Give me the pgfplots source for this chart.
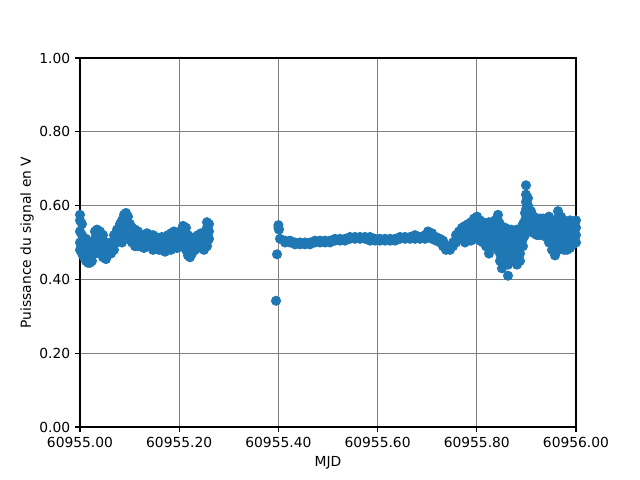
\documentclass[border=0pt]{standalone}
\usepackage{fontspec}
\setmainfont{DejaVu Sans}
\usepackage{pgfplots}
\pgfplotsset{compat=1.18}
\usepackage{pgfplotstable}
\definecolor{mplblue}{HTML}{1F77B4}
% x = MJD - 60955 (offset, to keep full precision)
\pgfplotstableread{
x y
0.0000 0.575
0.0000 0.56
0.0000 0.53
0.0000 0.50
0.0000 0.48
0.0040 0.55
0.0040 0.52
0.0040 0.49
0.0040 0.47
0.0081 0.50
0.0081 0.48
0.0081 0.46
0.0121 0.51
0.0121 0.49
0.0121 0.47
0.0121 0.45
0.0161 0.50
0.0161 0.47
0.0161 0.445
0.0202 0.49
0.0202 0.46
0.0202 0.445
0.0242 0.50
0.0242 0.48
0.0242 0.45
0.0302 0.53
0.0302 0.51
0.0302 0.49
0.0302 0.47
0.0343 0.535
0.0343 0.52
0.0343 0.50
0.0343 0.48
0.0403 0.53
0.0403 0.50
0.0403 0.47
0.0464 0.52
0.0464 0.49
0.0464 0.46
0.0524 0.50
0.0524 0.47
0.0524 0.455
0.0565 0.49
0.0565 0.47
0.0625 0.50
0.0625 0.48
0.0625 0.47
0.0685 0.52
0.0685 0.50
0.0685 0.48
0.0746 0.535
0.0746 0.52
0.0746 0.50
0.0806 0.55
0.0806 0.53
0.0806 0.51
0.0847 0.56
0.0847 0.54
0.0847 0.52
0.0847 0.50
0.0887 0.575
0.0887 0.56
0.0887 0.54
0.0887 0.52
0.0927 0.58
0.0927 0.55
0.0927 0.53
0.0968 0.57
0.0968 0.55
0.0968 0.52
0.0968 0.51
0.1008 0.55
0.1008 0.53
0.1008 0.51
0.1048 0.54
0.1048 0.52
0.1048 0.50
0.1109 0.535
0.1109 0.52
0.1109 0.50
0.1109 0.49
0.1169 0.53
0.1169 0.51
0.1169 0.49
0.1230 0.52
0.1230 0.50
0.1230 0.49
0.1290 0.52
0.1290 0.50
0.1290 0.485
0.1351 0.525
0.1351 0.51
0.1351 0.49
0.1411 0.52
0.1411 0.50
0.1411 0.49
0.1472 0.52
0.1472 0.50
0.1472 0.48
0.1532 0.515
0.1532 0.50
0.1532 0.485
0.1593 0.51
0.1593 0.49
0.1593 0.48
0.1653 0.515
0.1653 0.50
0.1653 0.48
0.1714 0.51
0.1714 0.49
0.1714 0.475
0.1774 0.52
0.1774 0.50
0.1774 0.48
0.1835 0.525
0.1835 0.50
0.1835 0.48
0.1895 0.53
0.1895 0.51
0.1895 0.49
0.1956 0.52
0.1956 0.50
0.1956 0.485
0.2016 0.53
0.2016 0.51
0.2016 0.49
0.2077 0.545
0.2077 0.52
0.2077 0.49
0.2137 0.54
0.2137 0.51
0.2137 0.48
0.2177 0.52
0.2177 0.49
0.2177 0.465
0.2218 0.50
0.2218 0.475
0.2218 0.46
0.2258 0.51
0.2258 0.49
0.2258 0.47
0.2319 0.515
0.2319 0.50
0.2319 0.48
0.2379 0.52
0.2379 0.50
0.2379 0.485
0.2440 0.525
0.2440 0.51
0.2440 0.49
0.2500 0.52
0.2500 0.50
0.2500 0.48
0.2560 0.555
0.2560 0.54
0.2560 0.52
0.2560 0.50
0.2560 0.49
0.2601 0.55
0.2601 0.53
0.2601 0.51
0.3952 0.342
0.3972 0.468
0.4000 0.547
0.4000 0.54
0.4012 0.535
0.4032 0.51
0.4133 0.505
0.4133 0.50
0.4234 0.505
0.4234 0.50
0.4335 0.50
0.4335 0.495
0.4435 0.50
0.4435 0.495
0.4536 0.50
0.4536 0.495
0.4637 0.50
0.4637 0.495
0.4738 0.505
0.4738 0.50
0.4839 0.505
0.4839 0.50
0.4940 0.505
0.4940 0.50
0.5040 0.505
0.5040 0.50
0.5141 0.51
0.5141 0.505
0.5242 0.51
0.5242 0.505
0.5343 0.51
0.5343 0.505
0.5444 0.515
0.5444 0.51
0.5544 0.515
0.5544 0.51
0.5645 0.515
0.5645 0.51
0.5746 0.515
0.5746 0.51
0.5847 0.515
0.5847 0.505
0.5948 0.51
0.5948 0.505
0.6048 0.51
0.6048 0.505
0.6149 0.505
0.6149 0.51
0.6250 0.51
0.6250 0.505
0.6351 0.51
0.6351 0.505
0.6452 0.515
0.6452 0.51
0.6552 0.515
0.6552 0.51
0.6653 0.515
0.6653 0.51
0.6754 0.52
0.6754 0.51
0.6855 0.515
0.6855 0.51
0.6956 0.52
0.6956 0.51
0.7016 0.53
0.7016 0.52
0.7097 0.525
0.7097 0.51
0.7177 0.515
0.7177 0.505
0.7258 0.51
0.7258 0.50
0.7319 0.505
0.7319 0.49
0.7379 0.49
0.7379 0.48
0.7460 0.49
0.7460 0.48
0.7520 0.50
0.7520 0.49
0.7581 0.52
0.7581 0.51
0.7581 0.50
0.7641 0.53
0.7641 0.52
0.7641 0.51
0.7702 0.54
0.7702 0.53
0.7702 0.52
0.7702 0.51
0.7762 0.545
0.7762 0.53
0.7762 0.515
0.7762 0.50
0.7823 0.55
0.7823 0.53
0.7823 0.51
0.7883 0.555
0.7883 0.54
0.7883 0.52
0.7883 0.505
0.7944 0.565
0.7944 0.55
0.7944 0.53
0.7944 0.51
0.8004 0.57
0.8004 0.55
0.8004 0.53
0.8004 0.51
0.8065 0.56
0.8065 0.545
0.8065 0.525
0.8065 0.505
0.8125 0.555
0.8125 0.54
0.8125 0.52
0.8125 0.50
0.8185 0.55
0.8185 0.53
0.8185 0.51
0.8185 0.49
0.8246 0.555
0.8246 0.54
0.8246 0.52
0.8246 0.50
0.8246 0.48
0.8246 0.47
0.8306 0.545
0.8306 0.53
0.8306 0.51
0.8306 0.49
0.8367 0.56
0.8367 0.54
0.8367 0.52
0.8367 0.50
0.8427 0.575
0.8427 0.56
0.8427 0.54
0.8427 0.52
0.8427 0.50
0.8427 0.48
0.8468 0.55
0.8468 0.53
0.8468 0.51
0.8468 0.49
0.8468 0.47
0.8468 0.45
0.8508 0.53
0.8508 0.51
0.8508 0.49
0.8508 0.47
0.8508 0.45
0.8508 0.43
0.8569 0.54
0.8569 0.52
0.8569 0.50
0.8569 0.48
0.8569 0.46
0.8569 0.44
0.8629 0.41
0.8629 0.44
0.8629 0.46
0.8629 0.48
0.8629 0.50
0.8629 0.52
0.8690 0.535
0.8690 0.51
0.8690 0.49
0.8690 0.47
0.8690 0.45
0.8750 0.53
0.8750 0.51
0.8750 0.49
0.8750 0.47
0.8750 0.45
0.8810 0.535
0.8810 0.52
0.8810 0.50
0.8810 0.48
0.8810 0.46
0.8810 0.44
0.8871 0.53
0.8871 0.51
0.8871 0.49
0.8871 0.47
0.8871 0.45
0.8931 0.55
0.8931 0.53
0.8931 0.51
0.8931 0.49
0.8972 0.58
0.8972 0.56
0.8972 0.54
0.8972 0.52
0.8992 0.655
0.8992 0.63
0.8992 0.61
0.8992 0.59
0.9032 0.62
0.9032 0.60
0.9032 0.58
0.9032 0.56
0.9032 0.54
0.9093 0.585
0.9093 0.57
0.9093 0.55
0.9093 0.53
0.9153 0.57
0.9153 0.555
0.9153 0.54
0.9153 0.525
0.9214 0.56
0.9214 0.545
0.9214 0.53
0.9214 0.52
0.9274 0.565
0.9274 0.55
0.9274 0.535
0.9274 0.52
0.9335 0.565
0.9335 0.55
0.9335 0.53
0.9335 0.52
0.9395 0.56
0.9395 0.545
0.9395 0.53
0.9395 0.515
0.9456 0.57
0.9456 0.55
0.9456 0.53
0.9456 0.51
0.9456 0.50
0.9516 0.56
0.9516 0.54
0.9516 0.52
0.9516 0.50
0.9516 0.48
0.9577 0.55
0.9577 0.53
0.9577 0.51
0.9577 0.49
0.9577 0.465
0.9637 0.585
0.9637 0.565
0.9637 0.54
0.9637 0.52
0.9637 0.50
0.9637 0.48
0.9698 0.57
0.9698 0.55
0.9698 0.53
0.9698 0.51
0.9698 0.49
0.9758 0.56
0.9758 0.54
0.9758 0.52
0.9758 0.50
0.9758 0.48
0.9819 0.555
0.9819 0.535
0.9819 0.515
0.9819 0.495
0.9819 0.48
0.9879 0.56
0.9879 0.54
0.9879 0.52
0.9879 0.50
0.9879 0.485
0.9940 0.555
0.9940 0.535
0.9940 0.515
0.9940 0.495
1.0000 0.56
1.0000 0.54
1.0000 0.52
1.0000 0.50
}\signal
\begin{document}
\begin{tikzpicture}
\path[use as bounding box] (-57.6bp,-38.16bp) rectangle (403.2bp,307.44bp);
\begin{axis}[
  at={(0,0)}, anchor=south west,
  scale only axis,
  width=357.12bp, height=265.68bp,
  xmin=0, xmax=1, ymin=0, ymax=1,
  axis on top,
  clip=true,
  xtick={0,0.2,0.4,0.6,0.8,1},
  xticklabels={60955.00,60955.20,60955.40,60955.60,60955.80,60956.00},
  ytick={0,0.2,0.4,0.6,0.8,1},
  yticklabels={0.00,0.20,0.40,0.60,0.80,1.00},
  scaled ticks=false,
  tick pos=left,
  tick align=outside,
  major tick length=3.5bp,
  every tick/.style={black, line width=0.8bp},
  axis line style={black, line width=0.8bp},
  grid=major,
  major grid style={gray, line width=1bp},
  tick label style={font=\fontsize{10}{12}\selectfont},
  label style={font=\fontsize{10}{12}\selectfont},
  xlabel={MJD},
  ylabel={Puissance du signal en V},
  every axis x label/.style={at={(axis description cs:0.5,-0.0975)}, anchor=center},
  every axis y label/.style={at={(axis description cs:-0.1069,0.5)}, anchor=center, rotate=90},
]
\addplot[only marks, mark=*, mark size=3bp, color=mplblue,
  mark options={fill=mplblue, draw=mplblue, line width=1.2bp}] table[x=x, y=y] {\signal};
\end{axis}
\end{tikzpicture}
\end{document}
